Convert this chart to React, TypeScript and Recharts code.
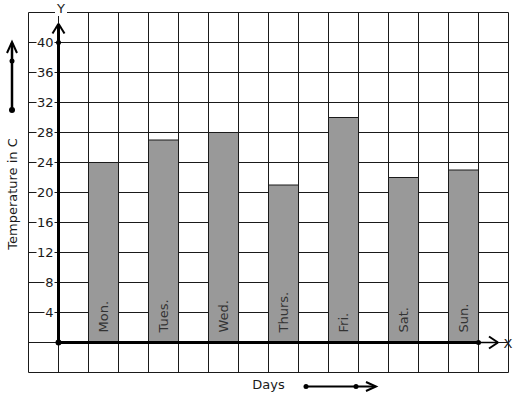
import {
  Bar,
  BarChart,
  CartesianGrid,
  LabelList,
  ReferenceDot,
  ReferenceLine,
  XAxis,
  YAxis,
} from "recharts";

const days = ["Mon.", "Tues.", "Wed.", "Thurs.", "Fri.", "Sat.", "Sun."];
const temps = [24, 27, 28, 21, 30, 22, 23];
const yLabels = [4, 8, 12, 16, 20, 24, 28, 32, 36, 40];
const yGrid = [-4, 0, 4, 8, 12, 16, 20, 24, 28, 32, 36, 40, 44];
const xGrid = [0, 1, 2, 3, 4, 5, 6, 7, 8, 9, 10, 11, 12, 13, 14, 15, 16];

const data = days.map((day, i) => ({ day, temp: temps[i] }));

const INK = "#1a1a1a";
const FONT = "'DejaVu Sans', sans-serif";

function YTick(props: { x?: number; y?: number; payload?: { value: number } }) {
  const { x = 0, y = 0, payload } = props;
  if (!payload || !yLabels.includes(Number(payload.value))) return <g />;
  const label = String(payload.value);
  const tx = Number(x) + 25;
  const w = label.length * 8 + 2;
  return (
    <g>
      <rect x={tx - w + 1} y={y - 6} width={w} height={12} fill="#fff" />
      <text x={tx} y={y} dy="0.36em" textAnchor="end" fontSize={13} fill={INK} fontFamily={FONT}>
        {label}
      </text>
    </g>
  );
}

function DayLabel(props: { x?: number; y?: number; width?: number; height?: number; value?: string }) {
  const { x = 0, y = 0, width = 0, height = 0, value } = props;
  const cx = Number(x) + Number(width) / 2;
  const by = Number(y) + Number(height) - 10;
  return (
    <text
      x={cx}
      y={by}
      dy="0.36em"
      transform={`rotate(-90 ${cx} ${by})`}
      textAnchor="start"
      fontSize={13}
      fill="#333"
      fontFamily={FONT}
    >
      {value}
    </text>
  );
}

export default function App() {
  return (
    <div style={{ position: "absolute", left: 0, top: 0, background: "#fff" }}>
      <BarChart
        width={517}
        height={399}
        data={data}
        margin={{ top: 12.5, right: 8.5, bottom: 26.5, left: 0 }}
        barCategoryGap={15}
        style={{ fontFamily: FONT }}
      >
        <CartesianGrid xAxisId="grid" stroke={INK} strokeWidth={1} />
        <XAxis xAxisId="cat" dataKey="day" hide padding={{ left: 45, right: 15 }} />
        <XAxis
          xAxisId="grid"
          dataKey="temp"
          type="number"
          domain={[0, 16]}
          allowDataOverflow
          ticks={xGrid}
          interval={0}
          hide
        />
        <YAxis
          type="number"
          domain={[-4, 44]}
          allowDataOverflow
          ticks={yGrid}
          width={28.5}
          axisLine={false}
          tickLine={false}
          tickSize={0}
          tickMargin={0}
          interval={0}
          tick={<YTick />}
        />
        <Bar
          xAxisId="cat"
          dataKey="temp"
          fill="#999999"
          stroke={INK}
          strokeWidth={1}
          isAnimationActive={false}
        >
          <LabelList dataKey="day" content={<DayLabel />} />
        </Bar>
        {/* y axis with arrow */}
        <ReferenceLine xAxisId="grid" segment={[{ x: 1, y: 0 }, { x: 1, y: 42.4 }]} stroke="#000" strokeWidth={3} ifOverflow="visible" />
        <ReferenceLine xAxisId="grid" segment={[{ x: 0.8, y: 41.2 }, { x: 1, y: 42.5 }]} stroke="#000" strokeWidth={2} ifOverflow="visible" />
        <ReferenceLine xAxisId="grid" segment={[{ x: 1.2, y: 41.2 }, { x: 1, y: 42.5 }]} stroke="#000" strokeWidth={2} ifOverflow="visible" />
        {/* x axis with arrow */}
        <ReferenceLine xAxisId="grid" segment={[{ x: 1, y: 0 }, { x: 15, y: 0 }]} stroke="#000" strokeWidth={3} ifOverflow="visible" />
        <ReferenceLine xAxisId="grid" segment={[{ x: 15, y: 0 }, { x: 15.65, y: 0 }]} stroke="#000" strokeWidth={1.5} ifOverflow="visible" />
        <ReferenceLine xAxisId="grid" segment={[{ x: 15.35, y: 0.8 }, { x: 15.65, y: 0 }]} stroke="#000" strokeWidth={2} ifOverflow="visible" />
        <ReferenceLine xAxisId="grid" segment={[{ x: 15.35, y: -0.8 }, { x: 15.65, y: 0 }]} stroke="#000" strokeWidth={2} ifOverflow="visible" />
        <ReferenceDot xAxisId="grid" x={1} y={0} r={3} fill="#000" stroke="none" ifOverflow="visible" />
        <ReferenceDot xAxisId="grid" x={1} y={40} r={2.5} fill="#000" stroke="none" ifOverflow="visible" />
        <ReferenceDot xAxisId="grid" x={15} y={0} r={2.5} fill="#000" stroke="none" ifOverflow="visible" />

        {/* axis letters */}
        <rect x={55} y={3} width={12} height={13} fill="#fff" />
        <text x={61} y={13} textAnchor="middle" fontSize={13} fill={INK} fontFamily={FONT}>Y</text>
        <text x={508} y={343} dy="0.36em" textAnchor="middle" fontSize={13} fill={INK} fontFamily={FONT}>X</text>

        {/* y title and arrow */}
        <text
          x={12}
          y={194}
          dy="0.36em"
          transform="rotate(-90 12 194)"
          textAnchor="middle"
          fontSize={13}
          fill={INK}
          fontFamily={FONT}
        >
          Temperature in C
        </text>
        <line x1={12} y1={110} x2={12} y2={43} stroke="#000" strokeWidth={2.5} />
        <polyline points="7,53 12,42 17,53" fill="none" stroke="#000" strokeWidth={2} />
        <circle cx={12} cy={61} r={2.5} fill="#000" />
        <circle cx={12} cy={110} r={3} fill="#000" />

        {/* x title and arrow */}
        <text x={268.5} y={389} textAnchor="middle" fontSize={13} fill={INK} fontFamily={FONT}>Days</text>
        <line x1={306} y1={386.5} x2={375} y2={386.5} stroke="#000" strokeWidth={2} />
        <polyline points="366,382 376,386.5 366,391" fill="none" stroke="#000" strokeWidth={2} />
        <circle cx={306} cy={386.5} r={2.5} fill="#000" />
        <circle cx={356} cy={386.5} r={2.5} fill="#000" />
      </BarChart>
    </div>
  );
}
